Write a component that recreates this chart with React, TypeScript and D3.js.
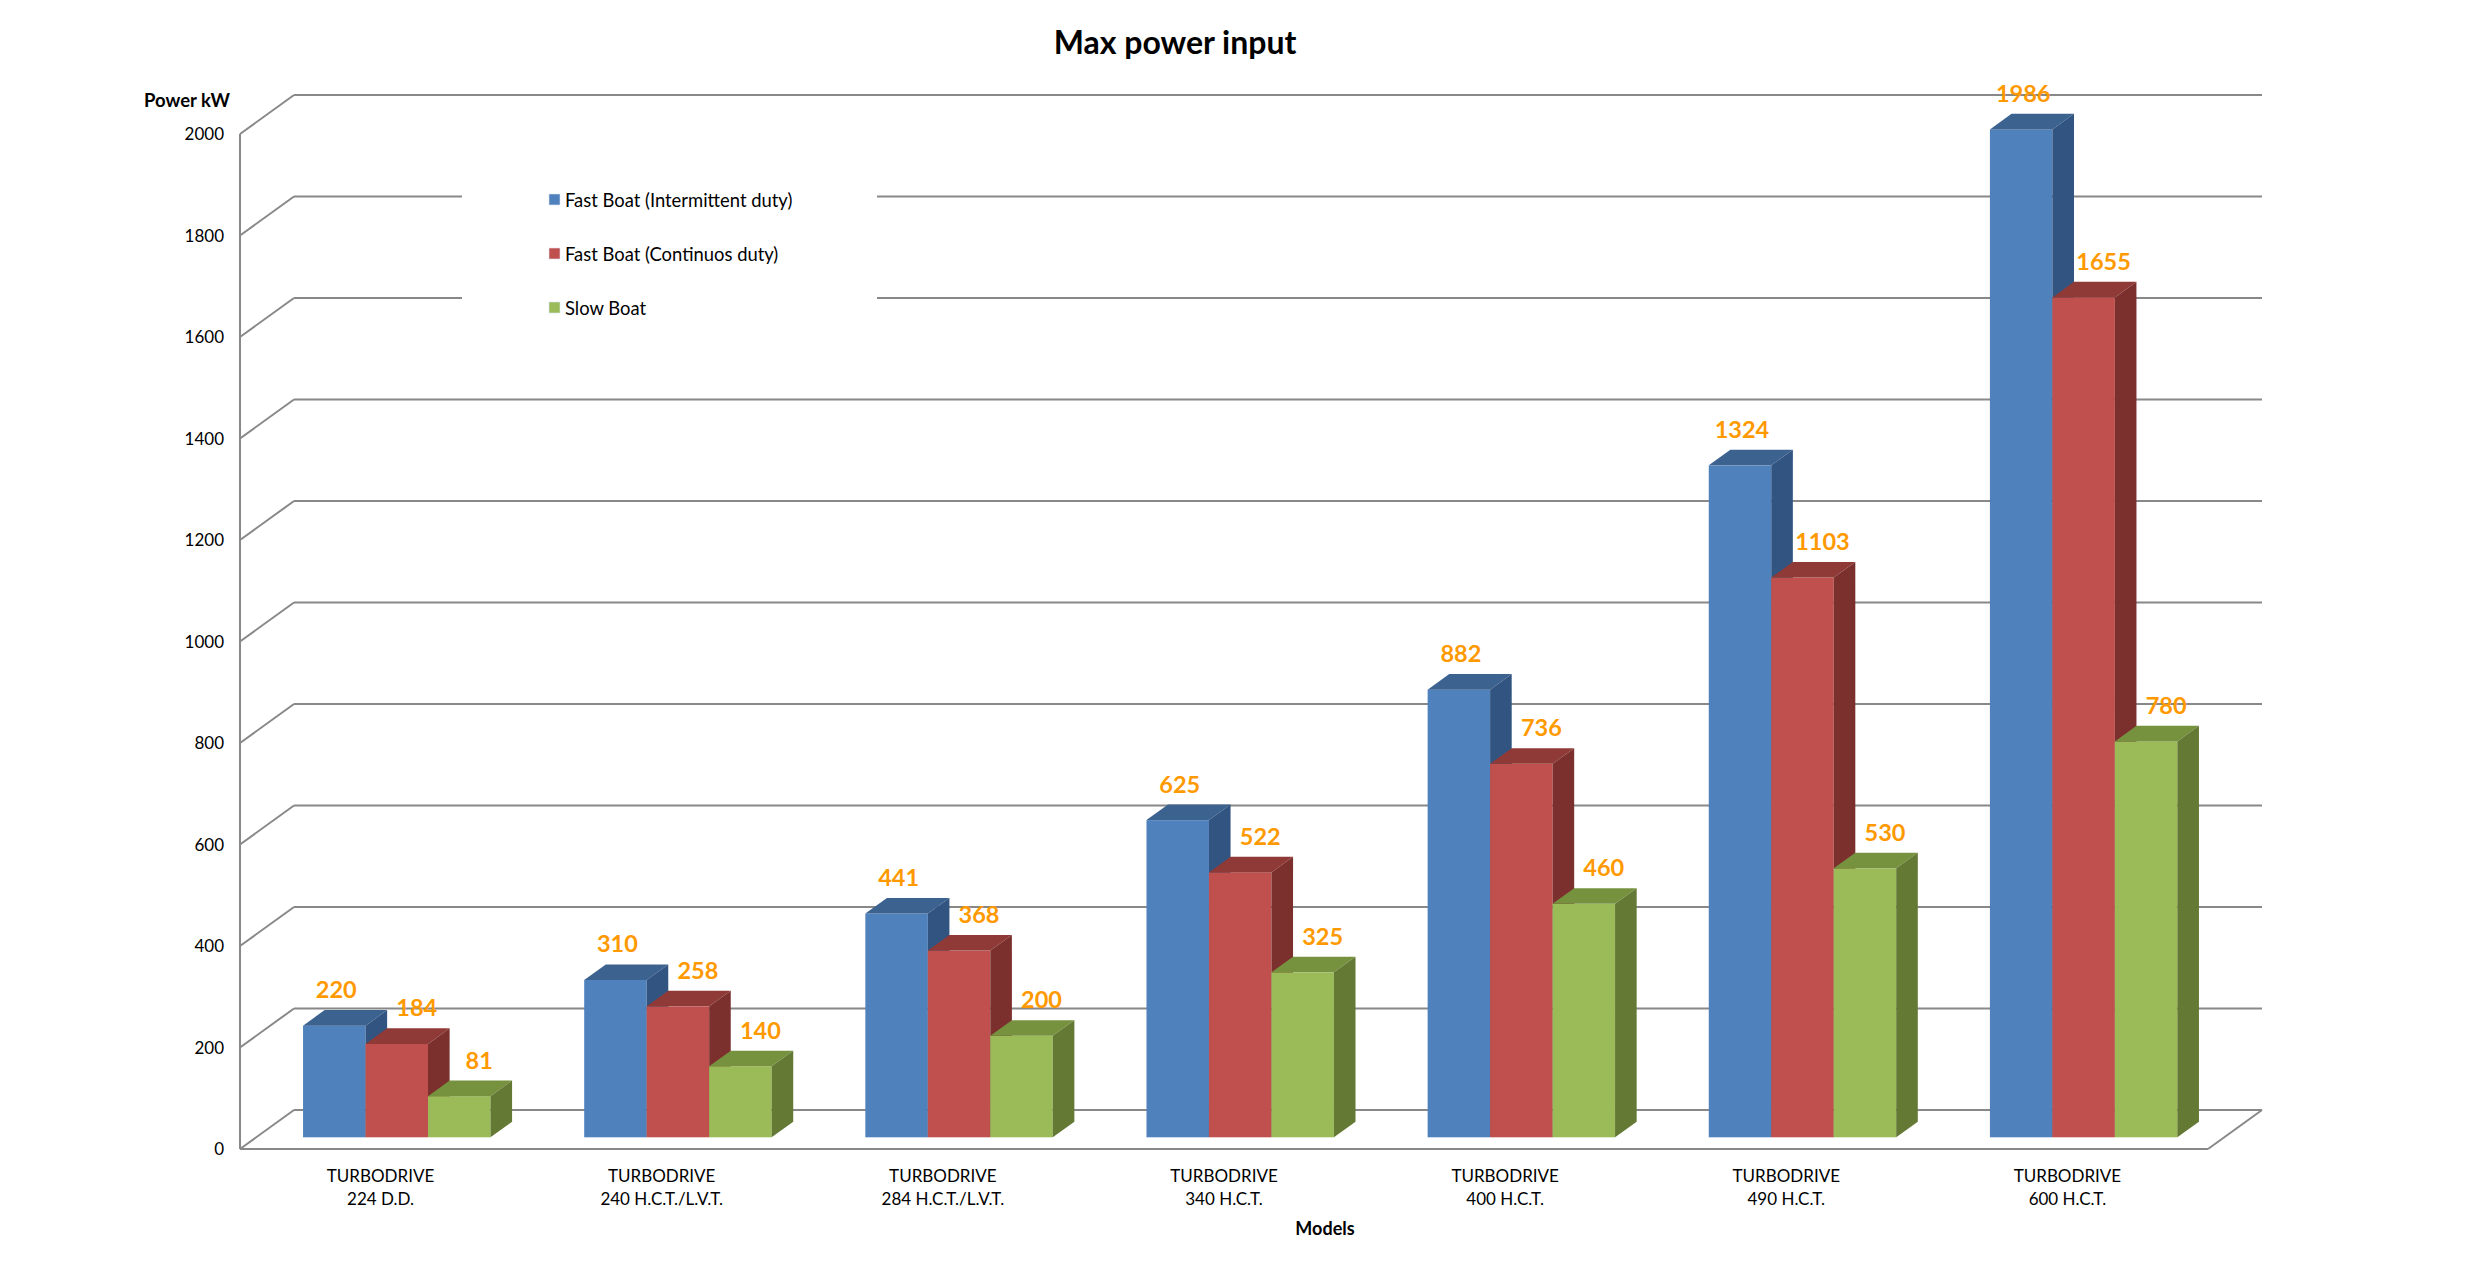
import { useEffect } from "react";
import * as d3 from "d3";

const models = ["224 D.D.", "240 H.C.T./L.V.T.", "284 H.C.T./L.V.T.", "340 H.C.T.", "400 H.C.T.", "490 H.C.T.", "600 H.C.T."];
const seriesNames = ["Fast Boat (Intermittent duty)", "Fast Boat (Continuos duty)", "Slow Boat"];
const intermittent = [220, 310, 441, 625, 882, 1324, 1986];
const continuous = [184, 258, 368, 522, 736, 1103, 1655];
const slow = [81, 140, 200, 325, 460, 530, 780];
const yTicks = [0, 200, 400, 600, 800, 1000, 1200, 1400, 1600, 1800, 2000];

const W = 2476;
const H = 1266;
const FONT = "Lato, 'Open Sans', sans-serif";

// front, top, side shades for each series
const palette = [
  { front: "#4F81BD", top: "#3C6290", side: "#325480" },
  { front: "#C0504D", top: "#8F3A37", side: "#7B302E" },
  { front: "#9BBB59", top: "#77923F", side: "#637934" },
];
const labelShift = [2, 20, 20];

export default function App() {
  useEffect(() => {
    document.body.style.margin = "0";
  }, []);

  const values = [intermittent, continuous, slow];
  const depth = { dx: 54, dy: -39 };

  const x0 = d3.scaleBand<string>().domain(models).range([240, 2208]).paddingInner(0);
  const x1 = d3
    .scaleBand<number>()
    .domain(d3.range(seriesNames.length))
    .range([0, x0.bandwidth()])
    .paddingInner(0)
    .paddingOuter(0.75);
  const y = d3.scaleLinear().domain([0, 2000]).range([1149, 134]);

  const w = x1.bandwidth();
  const barDx = depth.dx * 0.4;
  const barDy = depth.dy * 0.4;
  const offX = depth.dx * 0.3;
  const offY = depth.dy * 0.3;
  const grid = "#888888";

  return (
    <svg width={W} height={H} style={{ display: "block", background: "#fff" }} fontFamily={FONT}>
      {/* title */}
      <text x={1175} y={54} textAnchor="middle" fontSize={32} fontWeight={700} fill="#000">
        Max power input
      </text>

      {/* walls */}
      <g stroke={grid} strokeWidth={2} fill="none">
        {yTicks.map((t) => (
          <g key={t}>
            <line x1={240} y1={y(t)} x2={240 + depth.dx} y2={y(t) + depth.dy} />
            <line x1={240 + depth.dx} y1={y(t) + depth.dy} x2={2208 + depth.dx} y2={y(t) + depth.dy} />
          </g>
        ))}
        <line x1={240} y1={y(0)} x2={240} y2={y(2000)} />
        <line x1={240} y1={y(0)} x2={2208} y2={y(0)} />
        <line x1={2208} y1={y(0)} x2={2208 + depth.dx} y2={y(0) + depth.dy} />
      </g>

      {/* y tick labels */}
      {yTicks.map((t) => (
        <text key={t} x={224} y={y(t)} dy="0.36em" textAnchor="end" fontSize={17} fill="#000">
          {t}
        </text>
      ))}
      <text x={230} y={107} textAnchor="end" fontSize={18.5} fontWeight={700} fill="#000">
        Power kW
      </text>

      {/* legend */}
      <rect x={462} y={160} width={415} height={175} fill="#fff" />
      {seriesNames.map((name, s) => (
        <g key={name} transform={`translate(549,${200 + s * 54})`}>
          <rect x={0} y={-6} width={11} height={11} fill={palette[s].front} stroke="#dbe4f0" strokeWidth={0.6} />
          <text x={16} y={0} dy="0.36em" fontSize={18.4} fill="#000">
            {name}
          </text>
        </g>
      ))}

      {/* bars */}
      {models.map((m, i) => (
        <g key={m}>
          {values.map((vals, s) => {
            const v = vals[i];
            const fx = (x0(m) ?? 0) + (x1(s) ?? 0) + offX;
            const fb = y(0) + offY;
            const ft = y(v) + offY;
            const c = palette[s];
            return (
              <g key={s}>
                <rect x={fx} y={ft} width={w} height={fb - ft} fill={c.front} />
                <polygon
                  points={`${fx},${ft} ${fx + barDx},${ft + barDy} ${fx + w + barDx},${ft + barDy} ${fx + w},${ft}`}
                  fill={c.top}
                />
                <polygon
                  points={`${fx + w},${ft} ${fx + w + barDx},${ft + barDy} ${fx + w + barDx},${fb + barDy} ${fx + w},${fb}`}
                  fill={c.side}
                />
              </g>
            );
          })}
        </g>
      ))}

      {/* data labels */}
      {models.map((m, i) =>
        values.map((vals, s) => {
          const v = vals[i];
          const fx = (x0(m) ?? 0) + (x1(s) ?? 0) + offX;
          const ft = y(v) + offY;
          return (
            <text
              key={`${m}-${s}`}
              x={fx + w / 2 + labelShift[s]}
              y={ft + barDy - 12}
              textAnchor="middle"
              fontSize={23.5}
              fontWeight={700}
              fill="#FF9900"
            >
              {v}
            </text>
          );
        })
      )}

      {/* category labels */}
      {models.map((m) => {
        const cx = (x0(m) ?? 0) + x0.bandwidth() / 2;
        return (
          <text key={m} x={cx} textAnchor="middle" fontSize={17} fill="#000">
            <tspan x={cx} y={1182}>TURBODRIVE</tspan>
            <tspan x={cx} y={1205}>{m}</tspan>
          </text>
        );
      })}
      <text x={1325} y={1235} textAnchor="middle" fontSize={18} fontWeight={700} fill="#000">
        Models
      </text>
    </svg>
  );
}
